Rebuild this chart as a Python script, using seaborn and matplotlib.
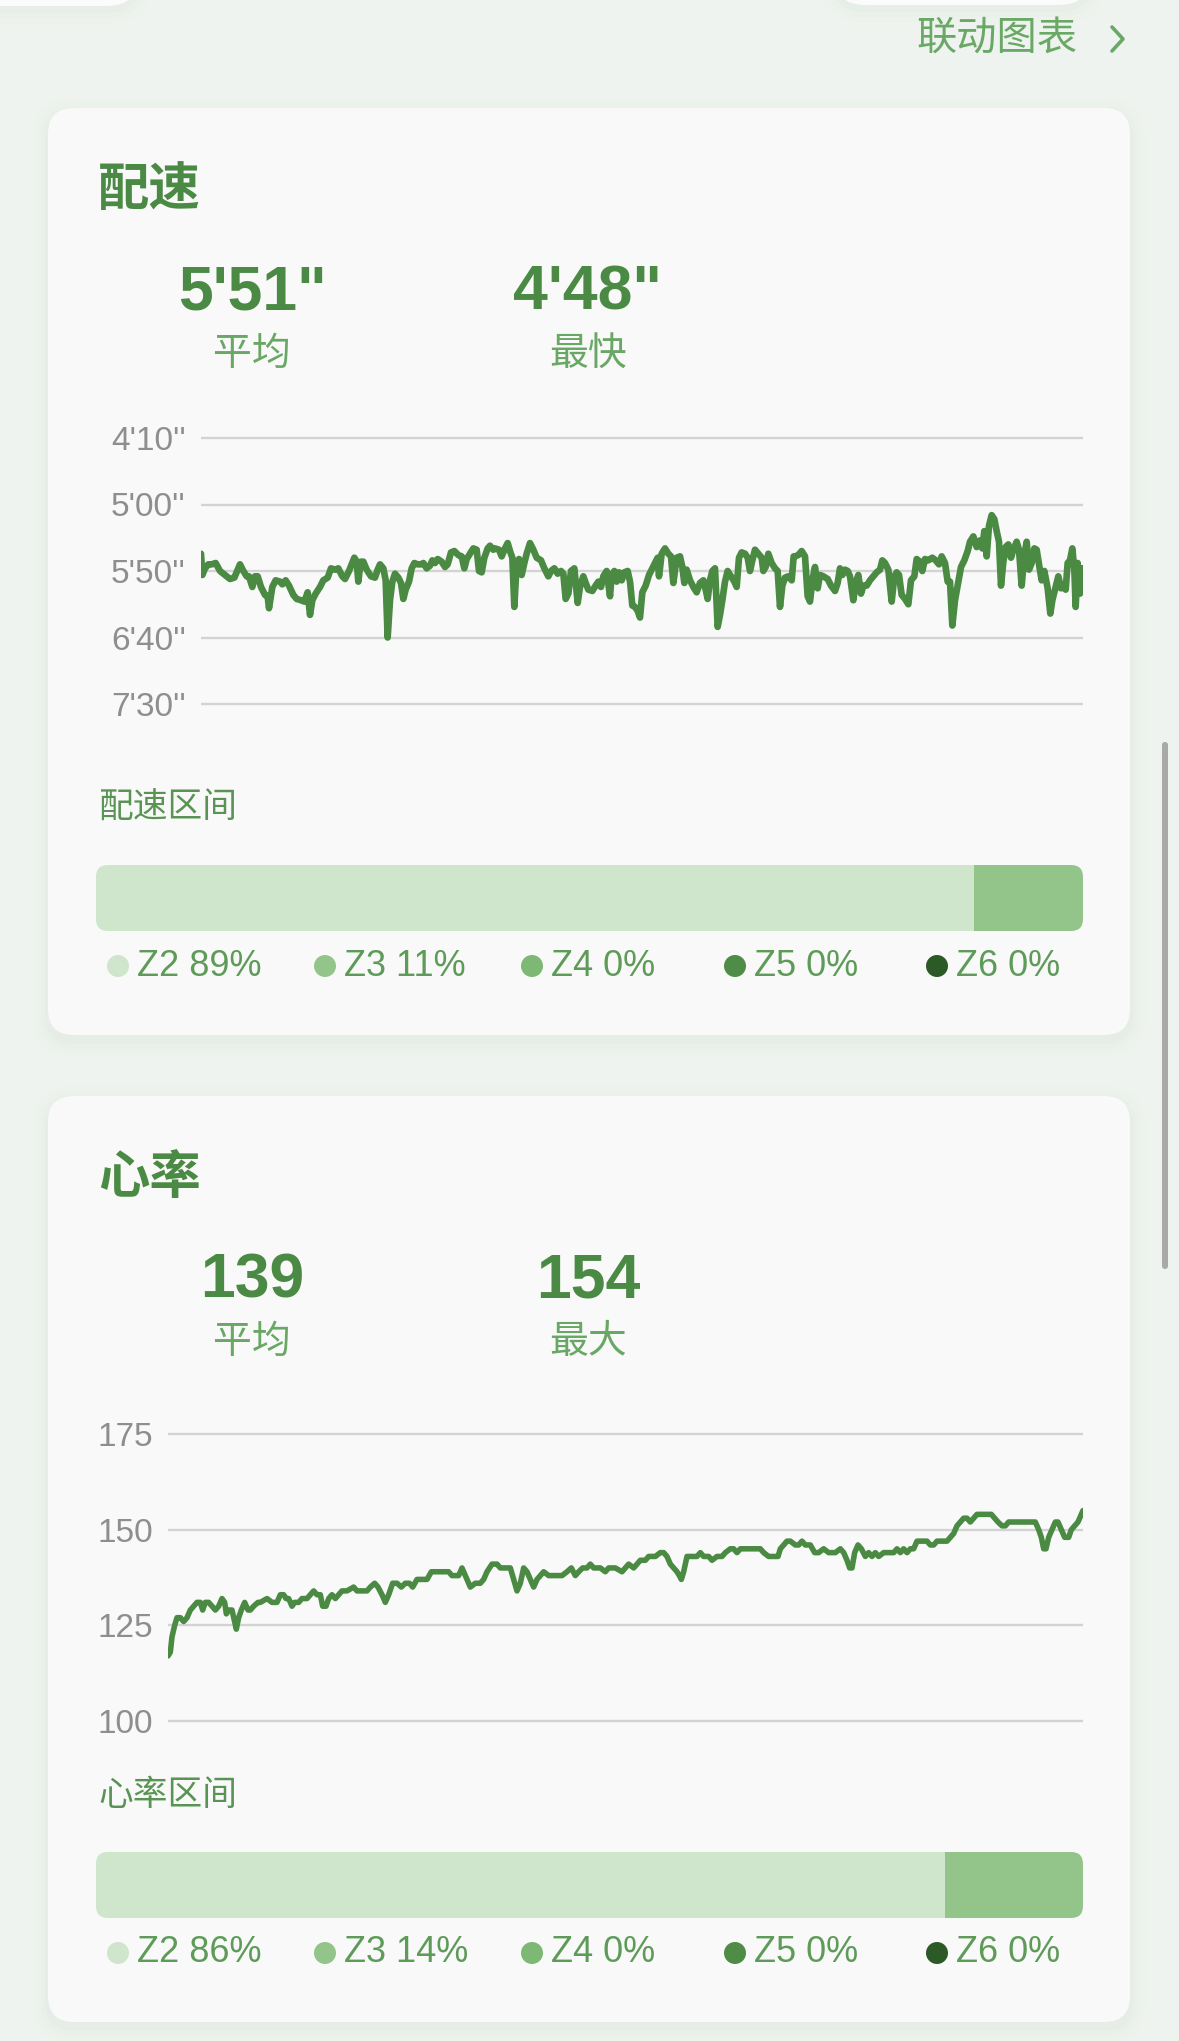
import matplotlib
matplotlib.use("Agg")
import matplotlib.pyplot as plt
from matplotlib.patches import FancyBboxPatch, Circle
import seaborn as sns

W, H = 1179, 2041

# pace along the run: distance (m) / pace (s per km)
pace_dist = [0, 16, 48, 88, 128, 176, 228, 288, 348, 400, 440, 468, 508, 548, 576, 616, 648, 680, 720, 768,
             800, 816, 856, 896, 948, 976, 1016, 1056, 1108, 1148, 1200, 1240, 1280, 1308, 1336, 1376, 1428, 1468, 1520, 1560,
             1608, 1648, 1696, 1728, 1776, 1808, 1840, 1868, 1888, 1916, 1948, 1988, 2040, 2088, 2120, 2148, 2188, 2216, 2240, 2268,
             2296, 2328, 2368, 2400, 2428, 2456, 2496, 2528, 2560, 2600, 2640, 2668, 2708, 2748, 2776, 2808, 2840, 2888, 2928, 2960,
             3000, 3040, 3088, 3128, 3160, 3188, 3228, 3268, 3308, 3336, 3368, 3400, 3440, 3468, 3508,
             3528, 3576, 3608, 3648, 3680, 3708, 3736, 3760, 3788, 3816, 3848, 3880, 3908, 3948, 3988, 4028, 4080, 4120, 4168, 4200,
             4240, 4280, 4320, 4348, 4376, 4408, 4440, 4480, 4520, 4548, 4588, 4616, 4648, 4696, 4736, 4768, 4800, 4828, 4868, 4908,
             4928, 4960, 4988, 5016, 5048, 5080, 5120, 5148, 5176, 5208, 5240, 5268, 5296, 5336, 5376, 5416, 5448, 5480, 5496, 5528,
             5568, 5608, 5640, 5668, 5708, 5748, 5776, 5800, 5828, 5868, 5908, 5948, 5988, 6028, 6056, 6080, 6108, 6136, 6168, 6200,
             6228, 6256, 6288, 6320, 6360, 6400, 6428, 6456, 6488, 6528, 6560, 6588, 6616, 6648, 6688, 6728, 6748, 6776, 6808, 6848,
             6888, 6920, 6948, 6976, 7008, 7048, 7088, 7112,
             7128, 7168, 7208, 7248, 7280, 7308, 7336, 7368, 7400, 7428, 7468, 7520, 7560, 7608, 7640, 7668, 7696, 7728, 7760, 7788,
             7828, 7856, 7888, 7920, 7948, 7988, 8028, 8068, 8108, 8148, 8176, 8208, 8248, 8288, 8320, 8348, 8376, 8408, 8448, 8488,
             8520, 8560, 8588, 8628, 8656, 8688, 8728, 8776, 8816, 8856, 8888, 8928, 8960, 8988, 9016, 9048, 9080, 9120, 9160, 9200,
             9228, 9268, 9308, 9348, 9376, 9400, 9428, 9456, 9488, 9520, 9548, 9576, 9600, 9628, 9656, 9688, 9720, 9748, 9788, 9816,
             9848, 9880, 9908, 9936, 9968, 10000, 10028, 10056, 10088, 10120, 10160, 10192, 10216, 10248, 10288, 10320, 10348, 10376, 10400, 10428,
             10456, 10480, 10496, 10520, 10548, 10568, 10584]
pace_sec = [337, 353, 348, 345, 345, 344, 350, 353, 356, 355, 349, 345, 350, 354, 354, 362, 354, 354, 362, 368,
            369, 378, 362, 357, 358, 360, 357, 361, 368, 371, 372, 373, 366, 383, 372, 367, 362, 357, 355, 348,
            349, 348, 354, 356, 350, 345, 340, 343, 358, 343, 343, 349, 354, 355, 349, 345, 348, 357, 400, 372,
            358, 352, 355, 359, 371, 364, 358, 348, 344, 345, 345, 344, 348, 346, 342, 344, 341, 343, 347, 345,
            336, 335, 338, 339, 348, 341, 337, 333, 334, 350, 351, 340, 333, 331, 334,
            333, 334, 339, 333, 329, 335, 340, 377, 344, 341, 353, 344, 337, 329, 334, 340, 342, 348, 354, 350,
            348, 352, 350, 352, 371, 367, 350, 348, 374, 362, 354, 359, 364, 365, 361, 358, 362, 354, 350, 369,
            353, 350, 358, 351, 357, 351, 350, 358, 376, 377, 380, 385, 366, 361, 353, 348, 344, 340, 354, 337,
            333, 337, 339, 359, 340, 339, 347, 359, 349, 357, 362, 366, 359, 357, 364, 371, 357, 350, 348, 392,
            383, 372, 358, 350, 354, 358, 362, 340, 336, 337, 340, 350, 342, 334, 337, 340, 350, 347, 337, 344,
            348, 350, 377, 361, 355, 354, 357, 339,
            339, 338, 335, 339, 369, 373, 357, 347, 363, 353, 354, 356, 361, 365, 359, 348, 353, 349, 350, 354,
            372, 359, 353, 367, 361, 361, 357, 354, 351, 349, 342, 344, 349, 373, 354, 351, 353, 368, 371, 375,
            357, 354, 341, 343, 350, 341, 342, 340, 342, 345, 339, 344, 358, 358, 391, 372, 361, 347, 342, 335,
            328, 324, 332, 327, 333, 320, 339, 316, 308, 311, 320, 328, 361, 343, 332, 330, 340, 334, 328, 334,
            361, 338, 328, 349, 344, 333, 334, 345, 357, 350, 363, 382, 372, 364, 354, 363, 362, 364, 344, 342,
            333, 349, 377, 344, 367, 348, 348]

# heart rate along the run: distance (m) / bpm
hr_dist = [0, 28, 48, 80, 108, 148, 188, 228, 268, 308, 348, 388, 416, 448, 488, 528, 568, 608, 648, 680,
           700, 728, 768, 800, 820, 848, 880, 920, 960, 988, 1028, 1080, 1108, 1188, 1248, 1308, 1348, 1388, 1416, 1448,
           1488, 1520, 1568, 1608, 1668, 1708, 1748, 1788, 1828, 1856, 1896, 1928, 1968, 2008, 2048, 2088, 2148, 2228, 2268, 2328,
           2388, 2428, 2480, 2520, 2568, 2608, 2648, 2696, 2748, 2800, 2848, 2896, 2936, 2988, 3048, 3108, 3160, 3228, 3308, 3368,
           3408, 3488, 3528, 3568, 3628, 3688, 3748, 3788, 3828, 3888, 3948, 3988, 4048, 4108, 4148, 4188, 4228, 4268, 4308, 4348,
           4388, 4428, 4468, 4508, 4568, 4648, 4728, 4788, 4840, 4888, 4928, 4976, 5028, 5068, 5108, 5188, 5248, 5288, 5368, 5448,
           5488, 5528, 5588, 5628, 5668, 5728, 5768, 5848, 5908, 5948, 5988, 6028, 6068, 6108, 6136, 6160, 6188, 6228, 6288, 6348,
           6388, 6428, 6488, 6528, 6588, 6648, 6688, 6748, 6788, 6828, 6868, 6928, 6988, 7048, 7108, 7148, 7208, 7268, 7320, 7348,
           7388, 7428, 7468, 7528, 7568, 7608, 7648, 7708, 7760, 7808, 7868, 7928, 8008, 8068, 8108, 8148, 8180, 8208, 8240, 8280,
           8320, 8368, 8408, 8448, 8488, 8528, 8588, 8648, 8708, 8748, 8788, 8828, 8868, 8908, 8948, 8988, 9048, 9108, 9148, 9188,
           9228, 9308, 9348, 9388, 9428, 9468, 9508, 9548, 9588, 9628, 9668, 9708, 9748, 9788, 9828, 9880, 9920, 9960, 10008, 10048,
           10088, 10148, 10228, 10308, 10408, 10448, 10480, 10508, 10536, 10568, 10608, 10648, 10680, 10720, 10760, 10808, 10840, 10880, 10920, 10960,
           10980]
hr_bpm = [117, 118, 122, 125, 127, 127, 126, 127, 129, 130, 131, 131, 129, 131, 131, 130, 129, 130, 132, 131,
          128, 129, 129, 126, 124, 127, 129, 131, 129, 129, 130, 131, 131, 132, 131, 131, 133, 133, 132, 132,
          130, 131, 131, 132, 132, 133, 134, 133, 133, 130, 130, 132, 133, 132, 133, 134, 134, 135, 134, 134,
          134, 135, 136, 135, 133, 131, 133, 136, 136, 135, 136, 136, 135, 137, 137, 137, 139, 139, 139, 139,
          138, 138, 140, 138, 135, 136, 136, 137, 139, 141, 141, 140, 140, 140, 137, 134, 136, 140, 139, 137,
          135, 137, 138, 139, 138, 138, 138, 139, 140, 138, 139, 140, 140, 141, 140, 140, 139, 140, 140, 139,
          140, 141, 140, 141, 142, 142, 143, 143, 144, 144, 143, 141, 140, 139, 138, 137, 139, 143, 143, 143,
          144, 143, 143, 142, 143, 143, 144, 145, 145, 144, 145, 145, 145, 145, 145, 144, 143, 143, 143, 145,
          146, 147, 147, 146, 146, 147, 146, 146, 144, 144, 145, 144, 144, 145, 144, 142, 140, 140, 144, 146,
          145, 143, 144, 143, 144, 143, 144, 144, 144, 145, 144, 145, 144, 145, 145, 147, 147, 147, 146, 146,
          147, 147, 147, 148, 149, 151, 152, 153, 153, 152, 153, 154, 154, 154, 154, 154, 153, 152, 151, 151,
          152, 152, 152, 152, 152, 150, 148, 145, 145, 148, 150, 152, 152, 150, 148, 148, 150, 151, 152, 154,
          155]

pace_ticks = [250, 300, 350, 400, 450]
pace_ticklabels = ["4'10''", "5'00''", "5'50''", "6'40''", "7'30''"]
hr_ticks = [100, 125, 150, 175]
hr_ticklabels = ["100", "125", "150", "175"]

zones = ["Z2", "Z3", "Z4", "Z5", "Z6"]
pace_zone_pct = [89, 11, 0, 0, 0]
hr_zone_pct = [86, 14, 0, 0, 0]
zone_colors = ["#cfe5cc", "#93c58a", "#7db875", "#4f8c48", "#2c5a27"]

pace_stats = ["5'51\"", "4'48\""]
pace_stat_names = ["平均", "最快"]
hr_stats = ["139", "154"]
hr_stat_names = ["平均", "最大"]

BG = "#eff3ef"
CARD = "#f9f9f9"
GREEN = "#4b8a44"
LIGHT_GREEN = "#69a764"
LINE = "#4a8a43"
GRID = "#d3d3d3"
TICK = "#8e8e8e"
CJK = ["Noto Sans CJK SC", "DejaVu Sans"]
LAT = ["Liberation Sans", "DejaVu Sans"]

sns.set_theme(style="white")
plt.rcParams["font.family"] = ["Liberation Sans", "Noto Sans CJK SC", "DejaVu Sans"]

fig = plt.figure(figsize=(W / 100, H / 100), dpi=100, facecolor=BG)
bg = fig.add_axes([0, 0, 1, 1])
bg.set_xlim(0, W)
bg.set_ylim(H, 0)
bg.axis("off")
bg.set_zorder(0)


def px_axes(x0, y0, x1, y1):
    return fig.add_axes([x0 / W, 1 - y1 / H, (x1 - x0) / W, (y1 - y0) / H])


def rbox(x, y, w, h, r, fc, alpha=1.0, z=1):
    p = FancyBboxPatch((x, y), w, h, boxstyle=f"round,pad=0,rounding_size={r}",
                       fc=fc, ec="none", alpha=alpha, zorder=z)
    bg.add_patch(p)
    return p


def card(y0, y1):
    for pad, a in [(16, 0.035), (11, 0.045), (7, 0.06), (3, 0.08)]:
        rbox(48 - pad, y0 - pad + 6, 1082 + 2 * pad, y1 - y0 + 2 * pad, 26 + pad, "#c9dcc9", a)
    rbox(48, y0, 1082, y1 - y0, 26, CARD, z=2)


# cut-off shapes at the very top
for pad, a in [(14, 0.04), (8, 0.06), (3, 0.08)]:
    rbox(-100 - pad, -100, 240 + 2 * pad, 106 + pad + 4, 34 + pad, "#c9dcc9", a)
    rbox(832 - pad, -100, 260 + 2 * pad, 105 + pad + 4, 34 + pad, "#c9dcc9", a)
rbox(-100, -100, 240, 106, 34, "#fbfbfb", z=2)
rbox(832, -100, 260, 105, 34, "#fbfbfb", z=2)

# header link
bg.text(1077, 39, "联动图表", ha="right", va="center", fontsize=29, color="#6aa866", family=CJK, zorder=3)
bg.plot([1112, 1123, 1112], [27, 39, 51], color="#6aa866", lw=2.6, solid_capstyle="round",
        solid_joinstyle="round", zorder=3)

# scroll bar
rbox(1162, 742, 6, 527, 3, "#a9a9a9", z=3)


def section(top, bottom, title, stats, names, zone_title, zone_y, bar_y, legend_y, pct):
    card(top, bottom)
    bg.text(98, top + 81, title, ha="left", va="center", fontsize=37, fontweight="bold",
            color=GREEN, family=CJK, zorder=3)
    for cx, s, n in zip([252, 588], stats, names):
        bg.text(cx, top + 185, s, ha="center", va="center", fontsize=45, fontweight="bold",
                color=GREEN, family=LAT, zorder=3)
        bg.text(cx, top + 246, n, ha="center", va="center", fontsize=28, color=LIGHT_GREEN,
                family=CJK, zorder=3)
    bg.text(98, zone_y, zone_title, ha="left", va="center", fontsize=25, color="#5a9455",
            family=CJK, zorder=3)

    # stacked zone bar
    bax = px_axes(96, bar_y, 1083, bar_y + 66)
    bax.set_xlim(0, 100)
    bax.set_ylim(-0.5, 0.5)
    bax.axis("off")
    clip = FancyBboxPatch((96, bar_y), 987, 66, boxstyle="round,pad=0,rounding_size=12",
                          transform=bg.transData, fc="none", ec="none")
    left = 0
    for p, c in zip(pct, zone_colors):
        if p > 0:
            bars = bax.barh(0, p, left=left, height=1.0, color=c, linewidth=0)
            for b in bars:
                b.set_clip_path(clip)
        left += p

    # legend
    for cx, z, p, c in zip([118, 325, 532, 735, 937], zones, pct, zone_colors):
        bg.add_patch(Circle((cx, legend_y), 11, fc=c, ec="none", zorder=3))
        bg.text(cx + 19, legend_y, f"{z} {p}%", ha="left", va="center", fontsize=26,
                color="#5e9b59", family=LAT, zorder=3)


def line_panel(ax, x, y, xmax, ylim, ticks, labels, lw):
    sns.lineplot(x=x, y=y, ax=ax, color=LINE, linewidth=lw, estimator=None)
    for ln in ax.lines:
        ln.set_solid_joinstyle("round")
        ln.set_solid_capstyle("round")
    ax.set_xlim(0, xmax)
    ax.set_ylim(*ylim)
    ax.set_yticks(ticks, labels)
    ax.set_xticks([])
    ax.set_xlabel("")
    ax.set_ylabel("")
    ax.grid(axis="y", color=GRID, linewidth=1.7)
    ax.set_axisbelow(True)
    ax.tick_params(axis="y", length=0, pad=11, labelsize=24, labelcolor=TICK)
    for t in ax.get_yticklabels():
        t.set_family(LAT)
    sns.despine(ax=ax, left=True, bottom=True)
    ax.patch.set_alpha(0)


# pace card
section(108, 1035, "配速", pace_stats, pace_stat_names, "配速区间", 808, 865, 966, pace_zone_pct)
pax = px_axes(201, 431.35, 1083, 710.65)
line_panel(pax, pace_dist, pace_sec, 10584, (455, 245), pace_ticks, pace_ticklabels, 4.8)

# heart-rate card
section(1096, 2022, "心率", hr_stats, hr_stat_names, "心率区间", 1795, 1852, 1953, hr_zone_pct)
hax = px_axes(168, 1422.5, 1083, 1732.5)
line_panel(hax, hr_dist, hr_bpm, 10980, (97, 178), hr_ticks, hr_ticklabels, 4.0)

fig.savefig("out.png", dpi=100, facecolor=BG)
